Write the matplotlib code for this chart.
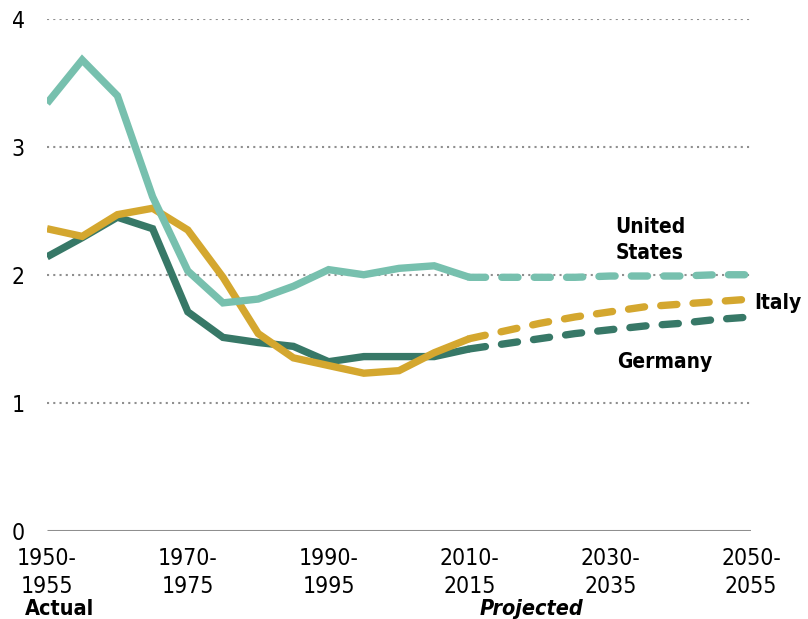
import matplotlib
matplotlib.use("Agg")
import matplotlib.pyplot as plt
from matplotlib import font_manager

names = {f.name for f in font_manager.fontManager.ttflist}
cond = [f for f in font_manager.fontManager.ttflist
        if f.name == "DejaVu Sans" and str(f.stretch) in ("condensed", "semi-condensed", "500", "300")]
if "Liberation Sans Narrow" in names:
    plt.rcParams["font.family"] = ["Liberation Sans Narrow", "DejaVu Sans"]
else:
    plt.rcParams["font.family"] = ["DejaVu Sans"]
    if cond:
        plt.rcParams["font.stretch"] = "condensed"

# ---- data ----
years = [1950, 1955, 1960, 1965, 1970, 1975, 1980, 1985, 1990, 1995, 2000, 2005, 2010]
proj_years = [2010, 2015, 2020, 2025, 2030, 2035, 2040, 2045, 2050]

us_actual = [3.34, 3.68, 3.40, 2.61, 2.03, 1.78, 1.81, 1.91, 2.04, 2.00, 2.05, 2.07, 1.98]
italy_actual = [2.36, 2.30, 2.47, 2.52, 2.35, 1.98, 1.54, 1.35, 1.29, 1.23, 1.25, 1.39, 1.50]
germany_actual = [2.14, 2.29, 2.45, 2.36, 1.71, 1.51, 1.47, 1.44, 1.32, 1.36, 1.36, 1.36, 1.42]

us_proj = [1.98, 1.98, 1.98, 1.98, 1.99, 1.99, 1.99, 2.00, 2.00]
italy_proj = [1.50, 1.56, 1.62, 1.67, 1.71, 1.75, 1.77, 1.79, 1.81]
germany_proj = [1.42, 1.46, 1.50, 1.54, 1.57, 1.60, 1.62, 1.65, 1.67]

tick_years = [1950, 1970, 1990, 2010, 2030, 2050]
tick_labels = ["1950-\n1955", "1970-\n1975", "1990-\n1995", "2010-\n2015", "2030-\n2035", "2050-\n2055"]
y_ticks = [0, 1, 2, 3, 4]

# ---- style ----
C_US = "#77c0ae"
C_IT = "#d4a72f"
C_DE = "#377867"
GRID = "#8f8f8f"

W, H = 808, 619
fig = plt.figure(figsize=(W / 100, H / 100), dpi=100)
ax = fig.add_axes([47 / W, 1 - 530.5 / H, (751 - 47) / W, (530.5 - 19) / H])
ax.set_xlim(1950, 2050)
ax.set_ylim(0, 4)
for s in ax.spines.values():
    s.set_visible(False)

# gridlines
for v in y_ticks[1:]:
    ax.plot([1950, 2050], [v, v], color=GRID, lw=1.5, linestyle=(0, (1, 2)),
            dash_capstyle="butt", zorder=1)
ax.plot([1950, 2050], [0, 0], color=GRID, lw=2.2, solid_capstyle="butt", zorder=1)

LW = 5.3
dash = (0, (2.2, 2.2))
series = [
    (germany_actual, germany_proj, C_DE, 3),
    (italy_actual, italy_proj, C_IT, 4),
    (us_actual, us_proj, C_US, 5),
]
for act, proj, c, z in series:
    ax.plot(years, act, color=c, lw=LW, solid_capstyle="butt", solid_joinstyle="miter", zorder=z)
    ax.plot(proj_years, proj, color=c, lw=LW, linestyle=dash, dash_capstyle="round", zorder=z)

ax.set_xticks(tick_years)
ax.set_xticklabels(tick_labels, fontsize=16.5, linespacing=1.25)
ax.set_yticks(y_ticks)
ax.set_yticklabels([str(v) for v in y_ticks], fontsize=16.5)
ax.tick_params(axis="both", length=0, colors="black")
ax.tick_params(axis="x", pad=12)
ax.tick_params(axis="y", pad=16)

# series labels
ax.text(2030.7, 2.27, "United\nStates", fontsize=15, fontweight="bold", ha="left",
        va="center", linespacing=1.35)
ax.text(2050.5, 1.78, "Italy", fontsize=15, fontweight="bold", ha="left", va="center")
ax.text(2031.0, 1.32, "Germany", fontsize=15, fontweight="bold", ha="left", va="center")

fig.text(25 / W, 1 - 609 / H, "Actual", fontsize=15.5, fontweight="bold", ha="left", va="center")
fig.text(531 / W, 1 - 609 / H, "Projected", fontsize=15.5, fontweight="bold",
         fontstyle="italic", ha="center", va="center")

fig.savefig("out.png", dpi=100)
